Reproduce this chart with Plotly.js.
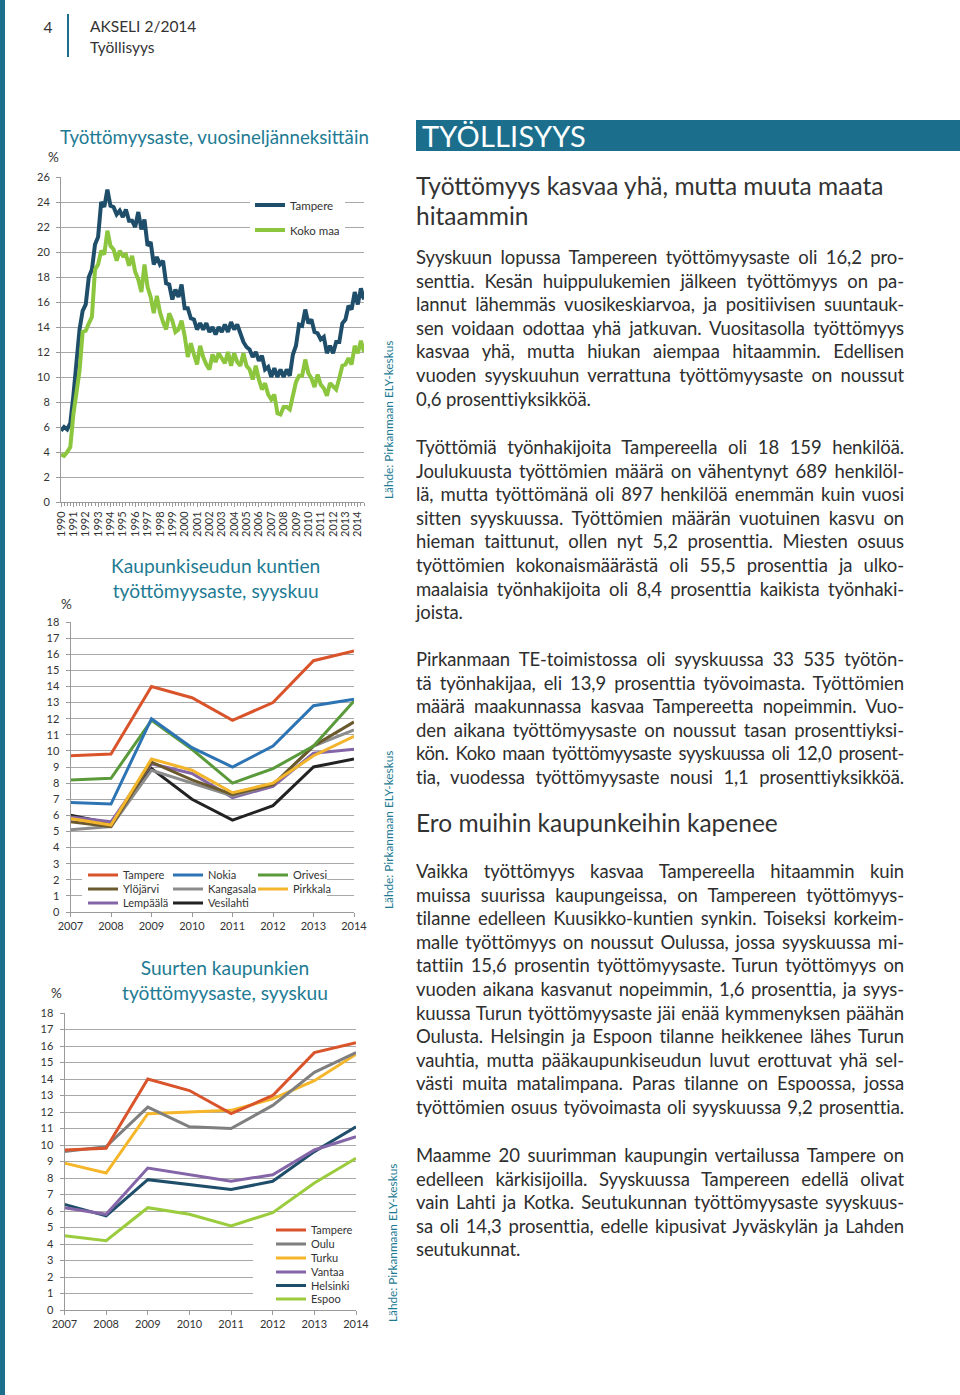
<!DOCTYPE html>
<html><head><meta charset="utf-8">
<script src="https://cdn.plot.ly/plotly-3.0.1.min.js"></script>
<style>
body{margin:0;width:960px;height:1395px;position:relative;background:#fff;font-family:Lato,sans-serif;overflow:hidden}
#chart{position:absolute;left:0;top:0;width:960px;height:1395px}
.stripe{position:absolute;left:0;top:0;width:5px;height:1395px;background:#1b6e8c}
.pg{position:absolute;left:40px;top:16px;width:16px;text-align:center;font-size:15.5px;color:#333;line-height:22px}
.vline{position:absolute;left:67px;top:14px;width:2px;height:43px;background:#1b6e8c}
.hdr{position:absolute;left:90px;top:16px;font-size:15.5px;color:#333;line-height:21px}
.bar{position:absolute;left:416px;top:120px;width:544px;height:31px;background:#1b6e8c;color:#fff;font-size:29px;line-height:31px;padding-left:6px;box-sizing:border-box;letter-spacing:0.2px}
.h2{position:absolute;left:416px;width:520px;font-size:24.5px;line-height:30px;color:#333}
.p{position:absolute;left:416px;width:488px;font-size:18.5px;line-height:23.6px;color:#2e2e2e;letter-spacing:-0.1px}
.p div{text-align:justify;text-align-last:justify}
.p div.l{text-align-last:left}
.p div.t{letter-spacing:-0.4px}
</style></head>
<body>
<div id="chart"></div>
<div class="stripe"></div>
<div class="pg">4</div>
<div class="vline"></div>
<div class="hdr">AKSELI 2/2014<br>Työllisyys</div>
<div class="bar">TYÖLLISYYS</div>
<div class="h2" style="top:171px">Työttömyys kasvaa yhä, mutta muuta maata<br>hitaammin</div>
<div class="p" style="top:246px">
<div>Syyskuun lopussa Tampereen työttömyysaste oli 16,2 pro-</div>
<div>senttia. Kesän huippulukemien jälkeen työttömyys on pa-</div>
<div>lannut lähemmäs vuosikeskiarvoa, ja positiivisen suuntauk-</div>
<div>sen voidaan odottaa yhä jatkuvan. Vuositasolla työttömyys</div>
<div>kasvaa yhä, mutta hiukan aiempaa hitaammin. Edellisen</div>
<div>vuoden syyskuuhun verrattuna työttömyysaste on noussut</div>
<div class="l">0,6 prosenttiyksikköä.</div>
</div>
<div class="p" style="top:436px">
<div>Työttömiä työnhakijoita Tampereella oli 18 159 henkilöä.</div>
<div>Joulukuusta työttömien määrä on vähentynyt 689 henkilöl-</div>
<div>lä, mutta työttömänä oli 897 henkilöä enemmän kuin vuosi</div>
<div>sitten syyskuussa. Työttömien määrän vuotuinen kasvu on</div>
<div>hieman taittunut, ollen nyt 5,2 prosenttia. Miesten osuus</div>
<div>työttömien kokonaismäärästä oli 55,5 prosenttia ja ulko-</div>
<div>maalaisia työnhakijoita oli 8,4 prosenttia kaikista työnhaki-</div>
<div class="l">joista.</div>
</div>
<div class="p" style="top:648px">
<div>Pirkanmaan TE-toimistossa oli syyskuussa 33 535 työtön-</div>
<div>tä työnhakijaa, eli 13,9 prosenttia työvoimasta. Työttömien</div>
<div>määrä maakunnassa kasvaa Tampereetta nopeimmin. Vuo-</div>
<div>den aikana työttömyysaste on noussut tasan prosenttiyksi-</div>
<div class="t">kön. Koko maan työttömyysaste syyskuussa oli 12,0 prosent-</div>
<div>tia, vuodessa työttömyysaste nousi 1,1 prosenttiyksikköä.</div>
</div>
<div class="h2" style="top:808px">Ero muihin kaupunkeihin kapenee</div>
<div class="p" style="top:860px">
<div>Vaikka työttömyys kasvaa Tampereella hitaammin kuin</div>
<div>muissa suurissa kaupungeissa, on Tampereen työttömyys-</div>
<div>tilanne edelleen Kuusikko-kuntien synkin. Toiseksi korkeim-</div>
<div>malle työttömyys on noussut Oulussa, jossa syyskuussa mi-</div>
<div>tattiin 15,6 prosentin työttömyysaste. Turun työttömyys on</div>
<div>vuoden aikana kasvanut nopeimmin, 1,6 prosenttia, ja syys-</div>
<div>kuussa Turun työttömyysaste jäi enää kymmenyksen päähän</div>
<div>Oulusta. Helsingin ja Espoon tilanne heikkenee lähes Turun</div>
<div>vauhtia, mutta pääkaupunkiseudun luvut erottuvat yhä sel-</div>
<div>västi muita matalimpana. Paras tilanne on Espoossa, jossa</div>
<div>työttömien osuus työvoimasta oli syyskuussa 9,2 prosenttia.</div>
</div>
<div class="p" style="top:1144px">
<div>Maamme 20 suurimman kaupungin vertailussa Tampere on</div>
<div>edelleen kärkisijoilla. Syyskuussa Tampereen edellä olivat</div>
<div>vain Lahti ja Kotka. Seutukunnan työttömyysaste syyskuus-</div>
<div>sa oli 14,3 prosenttia, edelle kipusivat Jyväskylän ja Lahden</div>
<div class="l">seutukunnat.</div>
</div>
<script>
// ---------- Chart 1: quarterly 1990Q1 - 2014Q3 ----------
const quarterStartYear = 1990;
const tampereQ = [
 5.7, 6.0, 5.8, 6.3,   8.5, 11.0, 13.8, 15.3,  15.8, 18.0, 18.6, 20.6,  21.2, 24.0, 23.6, 25.0,
 23.7, 23.6, 23.0, 23.3,  22.8, 23.4, 22.5, 22.5,  22.0, 23.2, 21.8, 22.6,  20.5, 20.8, 19.0, 19.6,
 19.0, 19.3, 17.5, 17.4,  16.2, 17.0, 16.4, 17.4,  15.5, 15.5, 14.7, 14.6,  13.8, 14.3, 13.8, 14.3,
 13.6, 14.0, 13.4, 14.0,  13.6, 14.2, 13.6, 14.4,  13.8, 14.2, 13.4, 12.8,  12.4, 12.2, 11.6, 12.0,
 11.3, 11.7, 10.6, 10.8,  10.0, 10.7, 10.0, 10.6,  10.0, 10.6, 10.1, 11.8,  12.5, 14.2, 14.1, 15.4,
 14.3, 14.6, 13.6, 13.5,  13.0, 13.2, 11.9, 12.5,  11.9, 12.8, 12.8, 14.3,  14.6, 15.7, 15.4, 16.8,
 15.8, 17.1, 16.2];
const kokoMaaQ = [
 3.8, 3.7, 4.0, 4.4,   7.0, 9.0, 10.5, 13.6,  13.7, 14.3, 14.8, 18.6,  19.0, 20.1, 19.8, 21.7,
 20.5, 20.2, 19.3, 20.1,  19.7, 19.8, 18.9, 19.7,  18.4, 17.8, 16.8, 19.0,  17.2, 16.4, 15.1, 16.5,
 15.2, 14.4, 13.8, 15.1,  14.5, 13.6, 13.8, 14.5,  13.3, 11.6, 12.7, 11.8,  11.0, 12.5, 11.6, 11.0,
 10.6, 11.8, 11.2, 11.9,  11.5, 11.1, 12.0, 10.9,  11.9, 11.2, 10.9, 11.9,  10.9, 10.6, 9.8, 10.9,
 9.8, 9.0, 9.5, 8.6,  8.2, 8.6, 7.1, 7.0,  7.6, 7.6, 7.4, 8.6,  9.6, 10.1, 10.1, 11.4,
 10.3, 9.9, 9.2, 10.2,  9.4, 9.1, 8.5, 9.5,  9.3, 9.0, 9.9, 10.9,  11.0, 11.5, 11.0, 12.5,
 11.9, 12.9, 12.0];
const quarters = tampereQ.map((_, i) => quarterStartYear + i / 4);

// ---------- Chart 2: Kaupunkiseudun kunnat, syyskuu ----------
const years = [2007, 2008, 2009, 2010, 2011, 2012, 2013, 2014];
const seutuNames = ['Tampere', 'Nokia', 'Orivesi', 'Ylöjärvi', 'Kangasala', 'Pirkkala', 'Lempäälä', 'Vesilahti'];
const seutuTampere   = [9.7, 9.8, 14.0, 13.3, 11.9, 13.0, 15.6, 16.2];
const seutuNokia     = [6.8, 6.7, 12.0, 10.2, 9.0, 10.3, 12.8, 13.2];
const seutuOrivesi   = [8.2, 8.3, 11.9, 10.1, 8.0, 8.9, 10.3, 13.1];
const seutuYlojarvi  = [5.6, 5.3, 9.3, 8.2, 7.3, 7.9, 10.3, 11.8];
const seutuKangasala = [5.1, 5.3, 8.8, 8.0, 7.2, 7.9, 10.3, 11.3];
const seutuPirkkala  = [5.8, 5.4, 9.5, 8.8, 7.4, 8.0, 9.7, 10.9];
const seutuLempaala  = [5.9, 5.6, 9.2, 8.6, 7.1, 7.8, 9.85, 10.1];
const seutuVesilahti = [6.0, 5.5, 8.9, 7.0, 5.7, 6.6, 9.0, 9.5];

// ---------- Chart 3: Suuret kaupungit, syyskuu ----------
const cityNames = ['Tampere', 'Oulu', 'Turku', 'Vantaa', 'Helsinki', 'Espoo'];
const cityTampere  = [9.7, 9.8, 14.0, 13.3, 11.9, 13.0, 15.6, 16.2];
const cityOulu     = [9.6, 9.9, 12.3, 11.1, 11.0, 12.4, 14.4, 15.6];
const cityTurku    = [8.9, 8.3, 11.9, 12.0, 12.1, 12.8, 13.9, 15.5];
const cityVantaa   = [6.2, 5.8, 8.6, 8.2, 7.8, 8.2, 9.7, 10.5];
const cityHelsinki = [6.4, 5.7, 7.9, 7.6, 7.3, 7.8, 9.6, 11.1];
const cityEspoo    = [4.5, 4.2, 6.2, 5.8, 5.1, 5.9, 7.7, 9.2];

const W = 960, H = 1395;
const px = x => x / W;
const py = y => 1 - y / H;
const FONT = 'Lato, sans-serif';
const TEAL = '#1e7b93';
const TXT = '#333';

const c = {
  tampere: '#d9532b', nokia: '#2d74b4', orivesi: '#5a9a3a', ylojarvi: '#6b5a2e',
  kangasala: '#8c8c8c', pirkkala: '#f2b52c', lempaala: '#8466a8', vesilahti: '#222222',
  oulu: '#7f7f7f', turku: '#f5b62a', vantaa: '#8466a8', helsinki: '#1f4e6b', espoo: '#9bcc3e',
  tqDark: '#1f4e6b', tqGreen: '#8cc63f'
};

const traces = [];
traces.push({x: quarters, y: tampereQ, type: 'scatter', mode: 'lines', name: 'Tampere',
  line: {color: c.tqDark, width: 4}, xaxis: 'x', yaxis: 'y', legend: 'legend', legendgroup: 'a'});
traces.push({x: quarters, y: kokoMaaQ, type: 'scatter', mode: 'lines', name: 'Koko maa',
  line: {color: c.tqGreen, width: 4}, xaxis: 'x', yaxis: 'y', legend: 'legend', legendgroup: 'b'});

const seutuData = [seutuTampere, seutuNokia, seutuOrivesi, seutuYlojarvi, seutuKangasala, seutuPirkkala, seutuLempaala, seutuVesilahti];
const seutuColors = [c.tampere, c.nokia, c.orivesi, c.ylojarvi, c.kangasala, c.pirkkala, c.lempaala, c.vesilahti];
const seutuLegend = ['legend2', 'legend2', 'legend2', 'legend3', 'legend3', 'legend3', 'legend4', 'legend4'];
[7, 6, 4, 3, 5, 2, 1, 0].forEach(i => {
  traces.push({x: years, y: seutuData[i], type: 'scatter', mode: 'lines', name: seutuNames[i],
    line: {color: seutuColors[i], width: 3}, xaxis: 'x2', yaxis: 'y2', legend: seutuLegend[i],
    legendrank: i});
});

const cityData = [cityTampere, cityOulu, cityTurku, cityVantaa, cityHelsinki, cityEspoo];
const cityColors = [c.tampere, c.oulu, c.turku, c.vantaa, c.helsinki, c.espoo];
[5, 4, 3, 2, 1, 0].forEach(i => {
  traces.push({x: years, y: cityData[i], type: 'scatter', mode: 'lines', name: cityNames[i],
    line: {color: cityColors[i], width: 3}, xaxis: 'x3', yaxis: 'y3', legend: 'legend' + (5 + i)});
});

const axisCommon = {
  showline: true, linecolor: '#9a9a9a', linewidth: 1, zeroline: false,
  ticks: 'outside', ticklen: 4, tickcolor: '#9a9a9a', tickfont: {family: FONT, size: 11, color: TXT},
  fixedrange: true
};
const yCommon = Object.assign({}, axisCommon, {showgrid: true, gridcolor: '#a8a8a8', gridwidth: 1,
  range: [0, 18], dtick: 1, tick0: 0, ticklabelstandoff: 4});

const layout = {
  width: W, height: H, margin: {l: 0, r: 0, t: 0, b: 0},
  paper_bgcolor: 'rgba(0,0,0,0)', plot_bgcolor: 'rgba(0,0,0,0)',
  font: {family: FONT, color: TXT},
  showlegend: true,
  xaxis: Object.assign({}, axisCommon, {domain: [px(61), px(364)], anchor: 'y', range: [1990, 2014.5],
    tick0: 1990, dtick: 1, tickangle: -90, showgrid: false, tickformat: 'd',
    minor: {dtick: 0.25, ticks: 'outside', ticklen: 3, tickcolor: '#9a9a9a'}}),
  yaxis: Object.assign({}, yCommon, {domain: [py(502), py(177)], anchor: 'x', range: [0, 26], dtick: 2}),
  xaxis2: Object.assign({}, axisCommon, {domain: [px(70.5), px(354)], anchor: 'y2', range: [2007, 2014],
    dtick: 1, tick0: 2007, showgrid: false}),
  yaxis2: Object.assign({}, yCommon, {domain: [py(912), py(622)], anchor: 'x2'}),
  xaxis3: Object.assign({}, axisCommon, {domain: [px(64.5), px(356)], anchor: 'y3', range: [2007, 2014],
    dtick: 1, tick0: 2007, showgrid: false}),
  yaxis3: Object.assign({}, yCommon, {domain: [py(1310), py(1013)], anchor: 'x3'}),
  legend: {x: px(250), y: py(217.5), xanchor: 'left', yanchor: 'middle', bgcolor: '#ffffff',
    font: {family: FONT, size: 11.5, color: TXT}, tracegroupgap: 6, traceorder: 'grouped'},
  shapes: [
    {type: 'rect', xref: 'paper', yref: 'paper', x0: px(82), x1: px(327), y0: py(910), y1: py(866),
      fillcolor: '#ffffff', line: {width: 0}, layer: 'above'},
    {type: 'rect', xref: 'paper', yref: 'paper', x0: px(253), x1: px(358), y0: py(1307), y1: py(1221),
      fillcolor: '#ffffff', line: {width: 0}, layer: 'above'}
  ],
  annotations: [
    {xref: 'paper', yref: 'paper', x: px(58), y: py(137), xanchor: 'left', yanchor: 'middle', showarrow: false,
      text: 'Työttömyysaste, vuosineljänneksittäin', font: {family: FONT, size: 18.7, color: TEAL}},
    {xref: 'paper', yref: 'paper', x: px(53), y: py(157), xanchor: 'center', yanchor: 'middle', showarrow: false,
      text: '%', font: {family: FONT, size: 13.5, color: TXT}},
    {xref: 'paper', yref: 'paper', x: px(215), y: py(577.5), xanchor: 'center', yanchor: 'middle', showarrow: false,
      text: 'Kaupunkiseudun kuntien<br>työttömyysaste, syyskuu', font: {family: FONT, size: 19.2, color: TEAL}},
    {xref: 'paper', yref: 'paper', x: px(66), y: py(604), xanchor: 'center', yanchor: 'middle', showarrow: false,
      text: '%', font: {family: FONT, size: 13.5, color: TXT}},
    {xref: 'paper', yref: 'paper', x: px(225), y: py(980), xanchor: 'center', yanchor: 'middle', showarrow: false,
      text: 'Suurten kaupunkien<br>työttömyysaste, syyskuu', font: {family: FONT, size: 19.2, color: TEAL}},
    {xref: 'paper', yref: 'paper', x: px(56), y: py(993), xanchor: 'center', yanchor: 'middle', showarrow: false,
      text: '%', font: {family: FONT, size: 13.5, color: TXT}},
    {xref: 'paper', yref: 'paper', x: px(389), y: py(420), xanchor: 'center', yanchor: 'middle', showarrow: false,
      textangle: -90, text: 'Lähde: Pirkanmaan ELY-keskus', font: {family: FONT, size: 11.8, color: TEAL}},
    {xref: 'paper', yref: 'paper', x: px(389), y: py(830), xanchor: 'center', yanchor: 'middle', showarrow: false,
      textangle: -90, text: 'Lähde: Pirkanmaan ELY-keskus', font: {family: FONT, size: 11.8, color: TEAL}},
    {xref: 'paper', yref: 'paper', x: px(392), y: py(1243), xanchor: 'center', yanchor: 'middle', showarrow: false,
      textangle: -90, text: 'Lähde: Pirkanmaan ELY-keskus', font: {family: FONT, size: 11.8, color: TEAL}}
  ]
};
[875, 889, 903].forEach((yy, k) => {
  layout['legend' + (k + 2)] = {orientation: 'h', x: px(83), y: py(yy), xanchor: 'left', yanchor: 'middle',
    bgcolor: 'rgba(0,0,0,0)', entrywidth: 40, entrywidthmode: 'pixels', traceorder: 'normal',
    font: {family: FONT, size: 11, color: TXT}};
});
[1230, 1244, 1258, 1272, 1285.5, 1299].forEach((yy, k) => {
  layout['legend' + (5 + k)] = {x: px(271), y: py(yy), xanchor: 'left', yanchor: 'middle',
    bgcolor: 'rgba(0,0,0,0)', font: {family: FONT, size: 11, color: TXT}};
});

Plotly.newPlot('chart', traces, layout, {staticPlot: true, displayModeBar: false});
</script>
</body></html>
